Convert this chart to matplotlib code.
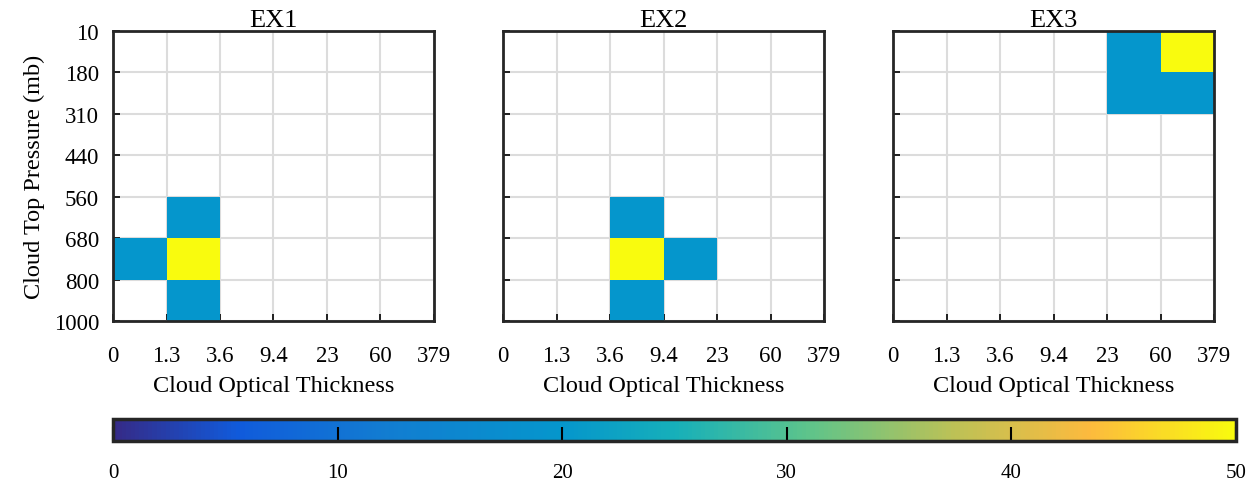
import matplotlib
matplotlib.use("Agg")
import matplotlib.pyplot as plt
import numpy as np
from matplotlib.colors import LinearSegmentedColormap

plt.rcParams['font.family'] = ['Liberation Serif', 'DejaVu Serif']
plt.rcParams['font.size'] = 16.5

# histogram bins
tau_labels = ["0", "1.3", "3.6", "9.4", "23", "60", "379"]
ctp_labels = ["10", "180", "310", "440", "560", "680", "800", "1000"]
titles = ["EX1", "EX2", "EX3"]

# cell values (row = pressure bin from top, col = optical thickness bin)
ex1 = [[0, 0, 0, 0, 0, 0],
       [0, 0, 0, 0, 0, 0],
       [0, 0, 0, 0, 0, 0],
       [0, 0, 0, 0, 0, 0],
       [0, 20, 0, 0, 0, 0],
       [20, 50, 0, 0, 0, 0],
       [0, 20, 0, 0, 0, 0]]
ex2 = [[0, 0, 0, 0, 0, 0],
       [0, 0, 0, 0, 0, 0],
       [0, 0, 0, 0, 0, 0],
       [0, 0, 0, 0, 0, 0],
       [0, 0, 20, 0, 0, 0],
       [0, 0, 50, 20, 0, 0],
       [0, 0, 20, 0, 0, 0]]
ex3 = [[0, 0, 0, 0, 20, 50],
       [0, 0, 0, 0, 20, 20],
       [0, 0, 0, 0, 0, 0],
       [0, 0, 0, 0, 0, 0],
       [0, 0, 0, 0, 0, 0],
       [0, 0, 0, 0, 0, 0],
       [0, 0, 0, 0, 0, 0]]
cbar_ticks = [0, 10, 20, 30, 40, 50]

# rough parula
parula = LinearSegmentedColormap.from_list("parula", [
    (0.00, (0.2081, 0.1663, 0.5292)),
    (0.11, (0.0641, 0.3550, 0.8597)),
    (0.24, (0.0704, 0.4870, 0.8208)),
    (0.40, (0.0200, 0.5900, 0.8000)),
    (0.50, (0.0873, 0.6890, 0.7286)),
    (0.62, (0.3676, 0.7689, 0.5432)),
    (0.75, (0.7392, 0.7586, 0.3373)),
    (0.87, (0.9871, 0.7301, 0.2438)),
    (1.00, (0.9763, 0.9831, 0.0538)),
])

fig = plt.figure(figsize=(12.47, 4.81), dpi=100)
W, H = 1247, 481
lefts = [113, 503, 893]
aw, top, bot = 321, 32, 322

for i, (data, title) in enumerate(zip([ex1, ex2, ex3], titles)):
    ax = fig.add_axes([lefts[i] / W, 1 - bot / H, aw / W, (bot - top) / H])
    vals = np.ma.masked_equal(np.array(data, dtype=float), 0)
    m = ax.pcolormesh(np.arange(7), np.arange(8), vals, cmap=parula, vmin=0, vmax=50, zorder=2)
    ax.set_xlim(0, 6)
    ax.set_ylim(7, 0)
    ax.set_xticks(range(7))
    ax.set_xticklabels(tau_labels)
    ax.set_yticks(range(8))
    if i == 0:
        ax.set_yticklabels(ctp_labels)
        ax.set_ylabel("Cloud Top Pressure (mb)", fontsize=17.5, labelpad=6)
    else:
        ax.set_yticklabels([])
    ax.grid(True, color="#dcdcdc", lw=1.5, zorder=1)
    ax.set_axisbelow(True)
    ax.tick_params(axis="x", direction="in", length=5, width=1.2, pad=17, top=False)
    ax.tick_params(axis="y", direction="in", length=5, width=1.2, pad=10, right=False)
    for s in ax.spines.values():
        s.set_linewidth(2)
        s.set_color("#262626")
        s.set_zorder(3)
    ax.set_title(title, pad=3, fontsize=19)
    ax.set_xlabel("Cloud Optical Thickness", labelpad=7, fontsize=17.5)

cax = fig.add_axes([113 / W, 1 - 442 / H, 1123 / W, 22 / H])
cb = fig.colorbar(m, cax=cax, orientation="horizontal", ticks=cbar_ticks)
cb.ax.tick_params(direction="in", length=10, width=1.5, pad=16, bottom=True, top=False, labelsize=15)
cb.outline.set_linewidth(2.5)
cb.outline.set_edgecolor("#262626")

fig.savefig("out.png", dpi=100)
